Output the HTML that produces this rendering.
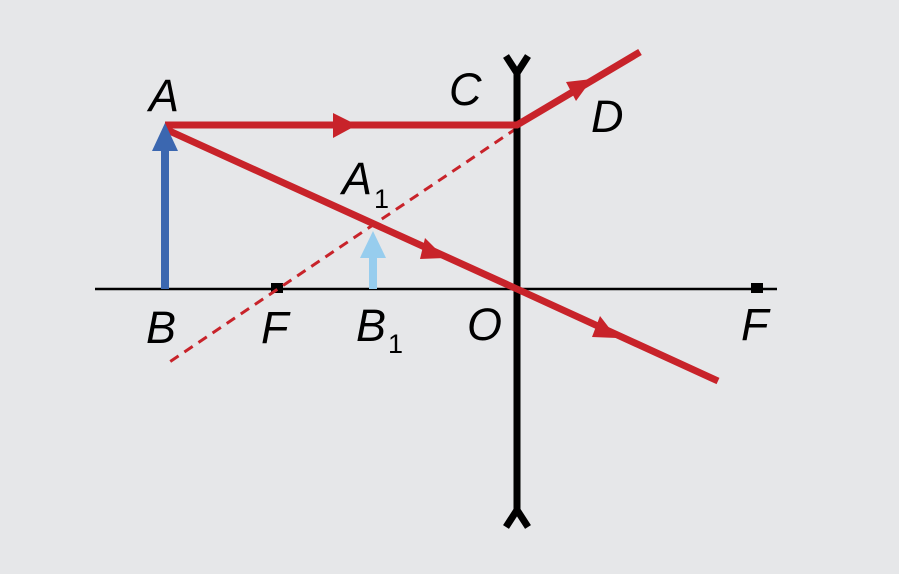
<!DOCTYPE html>
<html><head><style>
html,body{margin:0;padding:0;background:#e6e7e9;}
svg{display:block;}
text{font-family:"Liberation Sans",sans-serif;font-style:italic;font-size:45px;fill:#000;}
.s{font-size:27px;font-style:normal;}
</style></head><body>
<svg width="899" height="574" viewBox="0 0 899 574">
<rect width="899" height="574" fill="#e6e7e9"/>
<line x1="95" y1="289" x2="777" y2="289" stroke="#000" stroke-width="2.5"/>
<rect x="271" y="283" width="12" height="10" fill="#000"/>
<rect x="751" y="283" width="12" height="10" fill="#000"/>
<line x1="517" y1="128" x2="165" y2="365" stroke="#c8232a" stroke-width="3" stroke-dasharray="10,7"/>
<line x1="517" y1="70" x2="517" y2="512" stroke="#000" stroke-width="7"/>
<polyline points="506,56 517,73 528,56" fill="none" stroke="#000" stroke-width="7"/>
<polyline points="506,527 517,510 528,527" fill="none" stroke="#000" stroke-width="7"/>
<polyline points="165,125 517,125 640,52" fill="none" stroke="#c8232a" stroke-width="7"/>
<polyline points="165,129 517,289 718,381" fill="none" stroke="#c8232a" stroke-width="7"/>
<polygon points="333,113 333,138 357,125" fill="#c8232a"/>
<polygon points="566,82 576,101 592,79" fill="#c8232a"/>
<polygon points="425,238 420,259 445,258" fill="#c8232a"/>
<polygon points="600,316 592,337 617,338" fill="#c8232a"/>
<line x1="165" y1="289" x2="165" y2="145" stroke="#3b67b0" stroke-width="8"/>
<polygon points="165,123 152,151 178,151" fill="#3b67b0"/>
<line x1="373" y1="289" x2="373" y2="250" stroke="#97cdee" stroke-width="8"/>
<polygon points="373,231 360,258 386,258" fill="#97cdee"/>
<text x="149" y="111">A</text>
<text x="449" y="105">C</text>
<text x="591" y="132">D</text>
<text x="342" y="194">A</text><text class="s" x="374" y="208">1</text>
<text x="146" y="343">B</text>
<text x="261" y="343">F</text>
<text x="356" y="341">B</text><text class="s" x="388" y="353">1</text>
<text x="467" y="340">O</text>
<text x="741" y="340">F</text>
</svg>
</body></html>
